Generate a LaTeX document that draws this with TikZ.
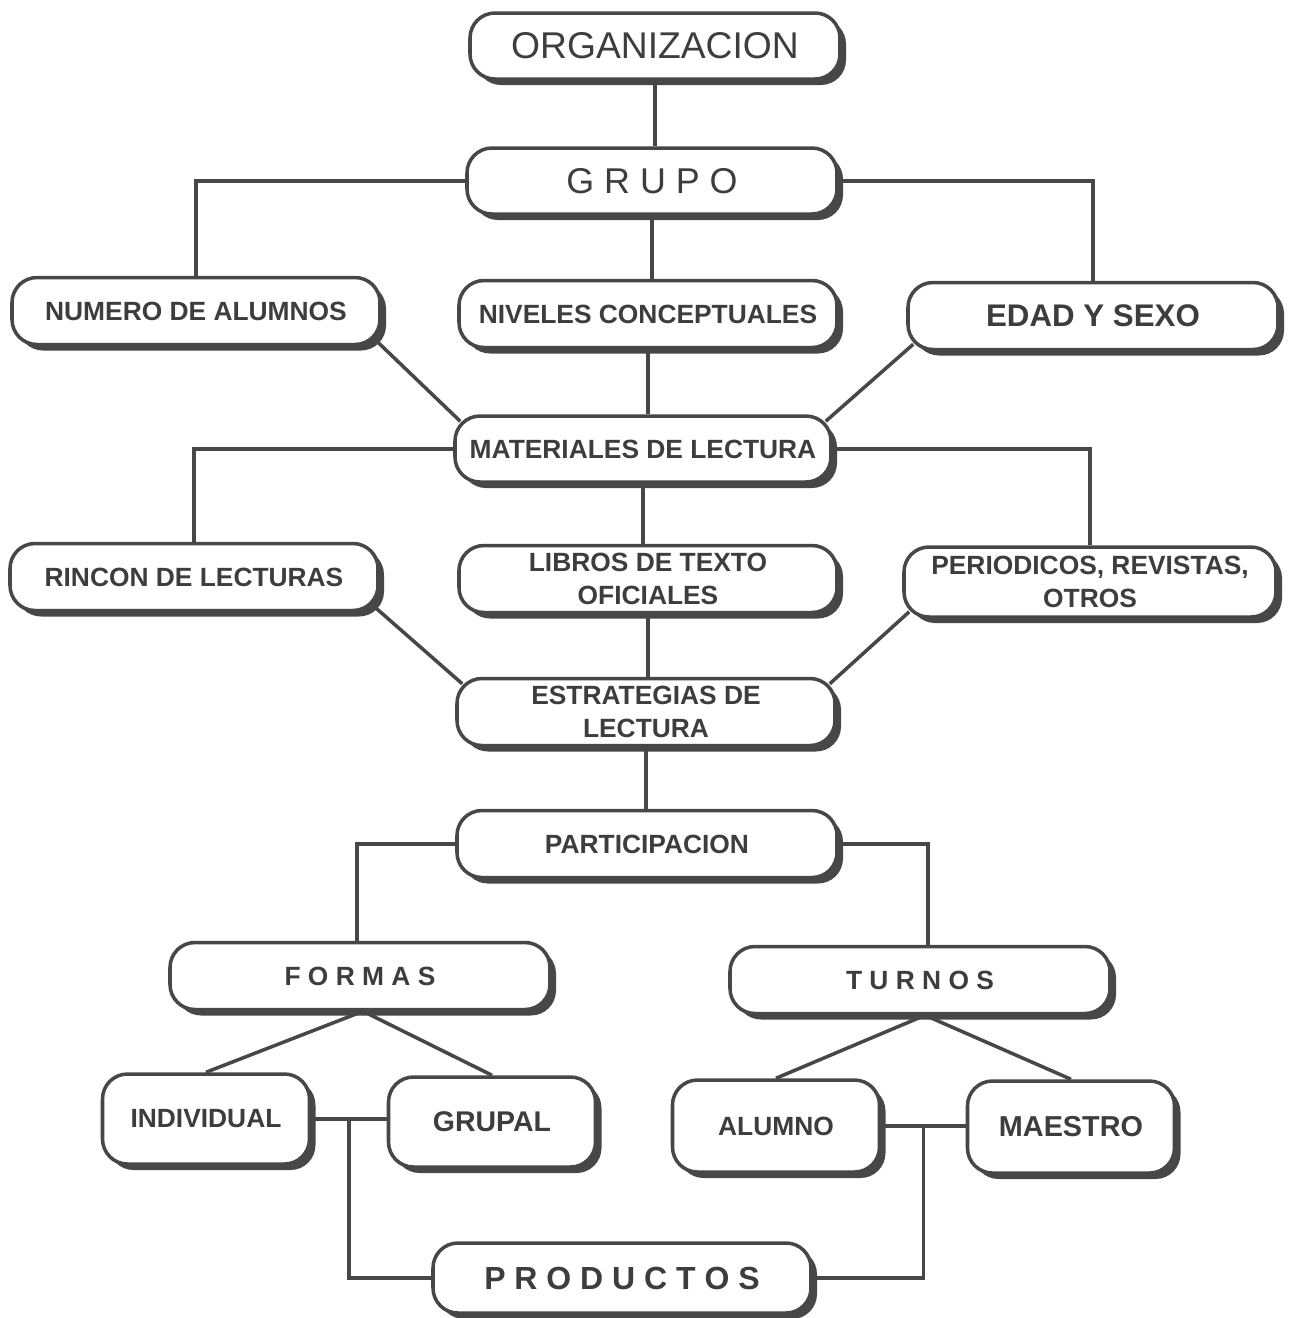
\documentclass[tikz,border=0pt]{standalone}
\usepackage{fontspec}
\setmainfont{Liberation Sans}
\usepackage{xcolor}
\usepackage{tikz}
\usetikzlibrary{shadows}
\usetikzlibrary{calc}
\definecolor{linea}{gray}{0.28}
\definecolor{texto}{gray}{0.24}
\tikzset{
  Caja/.style={draw=linea, line width=1pt, rounded corners=2.5mm, fill=white,
    minimum width=#1, minimum height=6.7mm, inner sep=1pt, align=center, text=texto,
    font={\bfseries\fontsize{7.5}{9.6}\selectfont},
    drop shadow={shadow xshift=.6mm, shadow yshift=-.6mm, fill=linea, opacity=1}}, % para cajas
  Caja/.default=3.75cm,
  CajaG/.style={Caja=2.07cm, minimum height=9mm}, % cajas pequenas
  Fina/.style={font={\fontsize{10.2}{12}\selectfont}}, % texto sin negrita
  Linea/.style={draw=linea, line width=1pt} % para lineas
}
\begin{document}
\begin{tikzpicture}[
Linea
]
\useasboundingbox (0,0) rectangle (12.91,-13.18);

%Cajas
\node[Caja=3.70cm, minimum height=6.6mm, Fina, font={\fontsize{10.6}{12}\selectfont}] (org) at (6.55,-0.46) {ORGANIZACION};
\node[Caja=3.70cm, minimum height=6.6mm, Fina] (grupo) at (6.52,-1.81) {G R U P O};

\node[Caja=3.68cm] (numero) at (1.96,-3.11) {NUMERO DE ALUMNOS};
\node[Caja=3.78cm] (niveles) at (6.48,-3.14) {NIVELES CONCEPTUALES};
\node[Caja=3.70cm, font={\bfseries\fontsize{8.9}{11}\selectfont}] (edad) at (10.93,-3.16) {EDAD Y SEXO};

\node[Caja=3.76cm, minimum height=6.6mm] (materiales) at (6.43,-4.49) {MATERIALES DE LECTURA};

\node[Caja=3.68cm] (rincon) at (1.94,-5.77) {RINCON DE LECTURAS};
\node[Caja=3.78cm] (libros) at (6.48,-5.79) {LIBROS DE TEXTO\\OFICIALES};
\node[Caja=3.72cm, minimum height=7mm] (periodicos) at (10.90,-5.82) {PERIODICOS, REVISTAS,\\OTROS};

\node[Caja=3.78cm] (estrategias) at (6.46,-7.12) {ESTRATEGIAS DE\\LECTURA};
\node[Caja=3.80cm] (participacion) at (6.47,-8.44) {PARTICIPACION};

\node[Caja=3.80cm] (formas) at (3.60,-9.76) {F O R M A S};
\node[Caja=3.80cm] (turnos) at (9.20,-9.80) {T U R N O S};

\node[CajaG] (individual) at (2.06,-11.19) {INDIVIDUAL};
\node[CajaG, font={\bfseries\fontsize{8.1}{10}\selectfont}] (grupal) at (4.92,-11.22) {GRUPAL};
\node[CajaG, minimum height=9.2mm] (alumno) at (7.76,-11.26) {ALUMNO};
\node[CajaG, minimum height=9.2mm, font={\bfseries\fontsize{8.2}{10}\selectfont}] (maestro) at (10.71,-11.27) {MAESTRO};

\node[Caja=3.78cm, minimum height=7mm, font={\bfseries\fontsize{9.1}{11}\selectfont}] (productos) at (6.22,-12.78) {P R O D U C T O S};

%Lineas
\draw (org.south) -- (org.south |- grupo.north);
\draw (grupo.west) -| (numero.north);
\draw (grupo.east) -| (edad.north);
\draw (grupo.south) -- (grupo.south |- niveles.north);

\draw ([xshift=-.7mm, yshift=.7mm]numero.south east) -- ([xshift=.7mm, yshift=-.7mm]materiales.north west);
\draw (niveles.south) -- (niveles.south |- materiales.north);
\draw ([xshift=.7mm, yshift=.7mm]edad.south west) -- ([xshift=-.7mm, yshift=-.7mm]materiales.north east);

\draw (materiales.west) -| (rincon.north);
\draw (materiales.east) -| (periodicos.north);
\draw (materiales.south) -- (materiales.south |- libros.north);

\draw ([xshift=-.7mm, yshift=.7mm]rincon.south east) -- ([xshift=.7mm, yshift=-.7mm]estrategias.north west);
\draw (libros.south) -- (libros.south |- estrategias.north);
\draw ([xshift=.7mm, yshift=.7mm]periodicos.south west) -- ([xshift=-.7mm, yshift=-.7mm]estrategias.north east);

\draw (estrategias.south) -- (estrategias.south |- participacion.north);
\draw (participacion.west) -| ([xshift=-.03cm]formas.north);
\draw (participacion.east) -| ([xshift=.08cm]turnos.north);

\draw ([xshift=.03cm]formas.south) -- (individual.north);
\draw ([xshift=.03cm]formas.south) -- (grupal.north);
\draw ([xshift=.05cm]turnos.south) -- (alumno.north);
\draw ([xshift=.05cm]turnos.south) -- (maestro.north);

\draw (individual.east) -- (individual.east -| grupal.west);
\draw (alumno.east) -- (alumno.east -| maestro.west);
\coordinate (juntaI) at ($(individual.east)!.5!(individual.east -| grupal.west)$);
\coordinate (juntaA) at ($(alumno.east)!.5!(alumno.east -| maestro.west)$);
\draw (juntaI) |- (productos.west);
\draw (juntaA) |- (productos.east);

\end{tikzpicture}
\end{document}
